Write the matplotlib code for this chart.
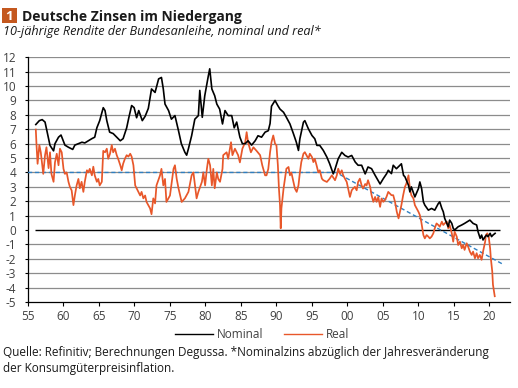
import matplotlib
matplotlib.use("Agg")
import matplotlib.pyplot as plt
from matplotlib.patches import Rectangle
from matplotlib.lines import Line2D

# ---------------- data ----------------
nominal_years = [1956.1, 1956.6, 1957.0, 1957.4, 1958.1, 1958.6, 1958.8, 1959.3, 1959.65,
                 1960.2, 1960.7, 1961.3, 1961.6, 1962.1, 1962.6, 1963.0, 1963.5, 1964.0,
                 1964.4, 1964.7, 1965.1, 1965.6, 1965.85, 1966.1, 1966.5, 1967.0, 1967.5,
                 1968.0, 1968.4, 1968.9, 1969.2, 1969.6, 1969.95, 1970.3, 1970.6, 1971.1,
                 1971.5, 1971.95, 1972.4, 1972.9, 1973.4, 1973.8, 1974.06, 1974.3, 1974.8,
                 1975.2, 1975.7, 1976.2, 1976.6, 1977.1, 1977.35, 1977.6, 1978.05, 1978.5,
                 1979.0, 1979.2, 1979.55, 1979.9, 1980.4, 1980.6, 1980.9, 1981.3, 1981.6,
                 1982.0, 1982.4, 1982.75, 1983.2, 1983.7, 1984.05, 1984.4, 1984.85, 1985.2,
                 1985.6, 1986.0, 1986.5, 1987.0, 1987.4, 1987.9, 1988.4, 1988.85, 1989.1,
                 1989.3, 1989.8, 1990.2, 1990.5, 1991.0, 1991.4, 1991.9, 1992.4, 1992.8,
                 1993.1, 1993.3, 1993.8, 1994.0, 1994.5, 1995.0, 1995.4, 1995.7, 1996.1,
                 1996.6, 1997.1, 1997.5, 1998.0, 1998.2, 1998.7, 1999.2, 1999.65, 2000.1,
                 2000.6, 2001.1, 2001.5, 2002.0, 2002.5, 2002.9, 2003.4, 2003.9, 2004.6,
                 2005.05, 2005.5, 2005.75, 2006.2, 2006.45, 2006.9, 2007.4, 2007.6, 2007.9,
                 2008.1, 2008.3, 2008.6, 2008.8, 2009.0, 2009.5, 2010.0, 2010.2, 2010.45,
                 2010.7, 2010.9, 2011.4, 2011.85, 2012.3, 2012.8, 2013.0, 2013.3, 2013.5,
                 2013.7, 2014.0, 2014.2, 2014.4, 2014.7, 2014.9, 2015.1, 2015.6, 2016.1,
                 2016.5, 2017.25, 2017.7, 2018.2, 2018.4, 2018.7, 2018.9, 2019.1, 2019.4,
                 2019.6, 2019.8, 2020.1, 2020.3, 2020.5, 2020.8]
nominal_vals = [7.33, 7.6, 7.67, 7.5, 5.88, 5.5, 6.0, 6.45, 6.6,
                5.9, 5.75, 5.6, 5.9, 6.0, 6.1, 6.05, 6.2, 6.35,
                6.45, 7.1, 7.6, 8.5, 8.3, 7.6, 6.8, 6.7, 6.45,
                6.2, 6.35, 7.1, 7.8, 8.65, 8.5, 7.8, 8.3, 7.6,
                7.9, 8.45, 9.8, 9.56, 10.5, 10.6, 9.8, 8.75, 8.3,
                7.7, 7.95, 6.9, 6.0, 5.4, 5.2, 5.65, 6.55, 7.7,
                7.95, 9.7, 7.83, 9.33, 10.7, 11.2, 9.8, 9.33, 8.75,
                8.4, 7.37, 8.3, 7.95, 7.95, 7.1, 7.5, 6.45, 6.0,
                6.0, 6.2, 5.9, 6.2, 6.55, 6.45, 6.8, 6.9, 7.4,
                8.6, 9.0, 8.64, 8.4, 8.18, 7.83, 7.37, 6.68, 6.1,
                5.53, 6.34, 7.49, 7.6, 7.03, 6.57, 6.34, 5.88, 5.88,
                5.53, 5.07, 4.6, 3.9, 4.15, 4.95, 5.4, 5.18, 5.07,
                5.18, 4.72, 4.5, 4.5, 3.9, 4.38, 4.26, 3.8, 3.2,
                3.57, 3.9, 4.15, 3.92, 4.5, 4.26, 4.5, 4.6, 3.8,
                3.7, 3.46, 3.11, 2.65, 3.0, 2.3, 2.88, 3.34, 2.88,
                1.96, 1.73, 1.38, 1.5, 1.38, 1.84, 1.96, 1.5, 1.27,
                0.81, 0.46, 0.23, 0.69, 0.46, 0.12, 0.0, 0.23, 0.35,
                0.46, 0.69, 0.46, 0.35, -0.12, -0.58, -0.35, -0.69, -0.46,
                -0.35, -0.46, -0.23, -0.46, -0.35, -0.23]

real_years = [1956.1, 1956.2, 1956.35, 1956.6, 1956.8, 1957.15, 1957.4, 1957.6, 1957.9,
              1958.1, 1958.3, 1958.6, 1958.8, 1959.05, 1959.3, 1959.5, 1959.75, 1960.0,
              1960.2, 1960.45, 1960.7, 1960.9, 1961.15, 1961.4, 1961.6, 1961.85, 1962.1,
              1962.3, 1962.55, 1962.8, 1963.0, 1963.3, 1963.5, 1963.7, 1964.0, 1964.2,
              1964.4, 1964.7, 1964.9, 1965.1, 1965.4, 1965.6, 1965.85, 1966.1, 1966.3,
              1966.55, 1966.8, 1967.0, 1967.25, 1967.5, 1967.7, 1968.0, 1968.2, 1968.4,
              1968.65, 1968.9, 1969.15, 1969.4, 1969.6, 1969.85, 1970.1, 1970.3, 1970.55,
              1970.8, 1971.0, 1971.25, 1971.5, 1971.7, 1971.95, 1972.2, 1972.4, 1972.65,
              1972.9, 1973.1, 1973.6, 1973.8, 1974.06, 1974.3, 1974.5, 1975.0, 1975.5,
              1975.7, 1975.95, 1976.2, 1976.65, 1977.1, 1977.6, 1978.05, 1978.3, 1978.75,
              1979.0, 1979.5, 1979.7, 1979.95, 1980.2, 1980.4, 1980.65, 1980.9, 1981.1,
              1981.3, 1981.6, 1981.8, 1982.05, 1982.4, 1982.5, 1982.98, 1983.2, 1983.6,
              1983.8, 1984.15, 1984.6, 1984.85, 1985.2, 1985.6, 1985.8, 1986.0, 1986.4,
              1986.75, 1987.2, 1987.7, 1988.0, 1988.4, 1988.6, 1988.85, 1989.1, 1989.3,
              1989.55, 1989.8, 1990.0, 1990.2, 1990.35, 1990.5, 1990.6, 1990.7, 1991.0,
              1991.2, 1991.4, 1991.7, 1991.9, 1992.1, 1992.4, 1992.6, 1992.85, 1993.1,
              1993.3, 1993.5, 1993.8, 1994.0, 1994.25, 1994.5, 1994.7, 1995.0, 1995.2,
              1995.4, 1995.65, 1995.9, 1996.1, 1996.4, 1996.6, 1997.1, 1997.5, 1997.8,
              1998.25, 1998.5, 1998.7, 1998.95, 1999.2, 1999.4, 1999.65, 1999.9, 2000.1,
              2000.35, 2000.6, 2000.8, 2001.05, 2001.3, 2001.5, 2001.75, 2002.0, 2002.2,
              2002.5, 2002.7, 2002.9, 2003.2, 2003.4, 2003.65, 2003.9, 2004.1, 2004.35,
              2004.6, 2004.8, 2005.05, 2005.3, 2005.5, 2005.75, 2006.2, 2006.45, 2006.7,
              2006.95, 2007.2, 2007.4, 2007.6, 2007.85, 2008.1, 2008.3, 2008.6, 2008.8,
              2009.0, 2009.3, 2009.5, 2009.75, 2010.0, 2010.2, 2010.4, 2010.7, 2010.9,
              2011.15, 2011.4, 2011.6, 2011.85, 2012.1, 2012.3, 2012.55, 2012.8, 2013.0,
              2013.3, 2013.5, 2013.7, 2014.0, 2014.2, 2014.4, 2014.7, 2014.9, 2015.1,
              2015.4, 2015.6, 2015.85, 2016.1, 2016.3, 2016.5, 2016.8, 2017.0, 2017.25,
              2017.5, 2017.7, 2017.96, 2018.2, 2018.4, 2018.65, 2018.9, 2019.1, 2019.4,
              2019.5, 2019.7, 2019.9, 2020.1, 2020.2, 2020.4, 2020.5, 2020.75]
real_vals = [6.98, 5.9, 4.6, 5.9, 5.4, 3.9, 5.2, 5.75, 4.3,
             5.4, 3.9, 3.35, 4.7, 5.3, 4.5, 5.65, 5.4, 4.25,
             3.9, 4.0, 3.35, 3.0, 2.75, 1.73, 2.4, 3.1, 3.55,
             2.9, 3.35, 2.65, 3.35, 4.15, 4.0, 4.25, 3.8, 4.4,
             3.8, 3.35, 3.55, 3.1, 3.35, 5.5, 5.4, 5.65, 4.95,
             5.3, 5.9, 5.4, 5.65, 5.2, 4.95, 4.5, 4.15, 4.6,
             4.95, 5.2, 5.1, 5.3, 5.1, 4.5, 3.1, 2.9, 2.65,
             2.4, 2.65, 2.2, 2.4, 1.95, 1.73, 1.5, 1.1, 2.2,
             1.85, 3.1, 3.8, 4.25, 3.1, 3.55, 1.95, 2.4, 4.25,
             4.5, 3.55, 2.9, 1.95, 2.2, 2.65, 3.8, 4.0, 2.2,
             2.65, 3.35, 4.0, 3.1, 4.25, 4.95, 4.5, 3.1, 4.25,
             2.9, 4.0, 3.55, 3.35, 4.25, 5.2, 5.4, 4.95, 6.1,
             5.2, 5.65, 5.2, 4.7, 5.65, 6.1, 6.8, 6.1, 5.4,
             5.75, 5.5, 5.2, 4.5, 3.8, 3.8, 4.25, 5.4, 6.1,
             6.57, 6.0, 5.88, 4.5, 2.88, 1.73, 0.12, 1.5, 2.88,
             3.57, 4.26, 4.38, 3.8, 4.0, 3.34, 2.88, 2.65, 3.1,
             4.0, 4.72, 5.3, 5.41, 5.18, 4.95, 5.3, 5.07, 4.72,
             4.95, 4.5, 4.0, 4.15, 3.57, 3.46, 3.34, 3.57, 3.8,
             3.46, 3.8, 4.26, 3.9, 4.15, 3.8, 3.57, 3.34, 2.88,
             2.3, 2.76, 2.88, 3.0, 2.76, 3.34, 3.57, 3.1, 2.88,
             3.2, 3.1, 3.46, 3.0, 2.42, 1.96, 2.3, 1.96, 2.3,
             1.61, 2.19, 1.96, 2.1, 2.3, 2.65, 2.42, 2.42, 1.96,
             1.27, 0.81, 1.27, 1.73, 2.42, 3.0, 3.22, 3.8, 2.88,
             2.42, 2.19, 1.73, 1.5, 1.27, 1.04, 0.58, -0.35, -0.58,
             -0.35, -0.46, -0.58, -0.46, -0.23, 0.12, 0.46, 0.35, 0.23,
             0.58, 0.35, 0.46, 0.58, 0.12, 0.35, -0.23, -0.81, -0.12,
             -0.46, -1.04, -0.81, -1.27, -1.04, -1.38, -0.92, -1.15, -1.5,
             -1.73, -1.5, -1.96, -1.61, -1.96, -1.73, -2.07, -1.5, -0.81,
             -0.35, -0.23, -0.46, -1.27, -1.96, -2.88, -3.8, -4.6]

trend_years = [1955.0, 1998.4, 2021.8]
trend_vals = [4.0, 4.0, -2.35]

x_ticks = [1955, 1960, 1965, 1970, 1975, 1980, 1985, 1990, 1995, 2000, 2005, 2010, 2015, 2020]
x_tick_labels = ["55", "60", "65", "70", "75", "80", "85", "90", "95", "00", "05", "10", "15", "20"]
y_ticks = list(range(-5, 13))
y_tick_labels = [str(v) for v in y_ticks]

# ---------------- styling ----------------
FONT = "Open Sans"
plt.rcParams["font.family"] = [FONT, "DejaVu Sans"]
TXT = "#404040"
W, H = 518, 388

fig = plt.figure(figsize=(W / 100, H / 100), dpi=100)
ax = fig.add_axes([28 / W, 1 - 302 / H, (510 - 28) / W, (302 - 57.3) / H])

ax.set_xlim(1955, 2022.9)
ax.set_ylim(-5, 12)

for v in y_ticks:
    if v in (-5, 0):
        continue
    ax.axhline(v, color="#8c8c8c", lw=0.9, zorder=1)
ax.hlines(0, 1956.0, 2021.5, color="black", lw=1.0, zorder=2)

ax.plot(trend_years, trend_vals, color="#2f7fc1", lw=1.0, ls=(0, (3, 2)), zorder=3)
ax.plot(real_years, real_vals, color="#e8572a", lw=1.25, zorder=4, label="Real")
ax.plot(nominal_years, nominal_vals, color="black", lw=1.2, zorder=5, label="Nominal")

ax.set_xticks(x_ticks)
ax.set_xticklabels(x_tick_labels)
ax.set_yticks(y_ticks)
ax.set_yticklabels(y_tick_labels)
ax.tick_params(axis="y", direction="out", length=2.5, width=0.8, pad=6, labelsize=8.5, labelcolor=TXT)
ax.tick_params(axis="x", direction="out", length=3, width=0.8, pad=3, labelsize=8.5, labelcolor=TXT)
for s in ("top", "right"):
    ax.spines[s].set_visible(False)
for s in ("left", "bottom"):
    ax.spines[s].set_color("black")
    ax.spines[s].set_linewidth(0.9)

handles = [Line2D([], [], color="black", lw=1.0), Line2D([], [], color="#e8572a", lw=1.0)]
fig.legend(handles, ["Nominal", "Real"], loc="center", bbox_to_anchor=(262 / W, 1 - 335 / H),
           ncol=2, frameon=False, fontsize=8.5, handlelength=3.2, handletextpad=0.3,
           columnspacing=1.8, labelcolor=TXT)

# title block
fig.patches.append(Rectangle((1.7 / W, 1 - 23.3 / H), 15 / W, 15 / H, transform=fig.transFigure,
                             facecolor="#c4581f", edgecolor="none"))
fig.text(9.2 / W, 1 - 16 / H, "1", color="white", fontsize=9.5, fontweight="bold",
         ha="center", va="center")
fig.text(22.5 / W, 1 - 21.3 / H, "Deutsche Zinsen im Niedergang", fontsize=10.0,
         fontweight="bold", color="#1a1a1a", ha="left", va="baseline")
fig.text(3 / W, 1 - 35.5 / H, "10-jährige Rendite der Bundesanleihe, nominal und real*",
         fontsize=9.1, style="italic", color="#1a1a1a", ha="left", va="baseline")

fig.text(3 / W, 1 - 355.7 / H,
         "Quelle: Refinitiv; Berechnungen Degussa. *Nominalzins abzüglich der Jahresveränderung",
         fontsize=8.45, color="#1a1a1a", ha="left", va="baseline")
fig.text(3 / W, 1 - 371.7 / H, "der Konsumgüterpreisinflation.",
         fontsize=8.45, color="#1a1a1a", ha="left", va="baseline")

fig.savefig("out.png", dpi=100)
